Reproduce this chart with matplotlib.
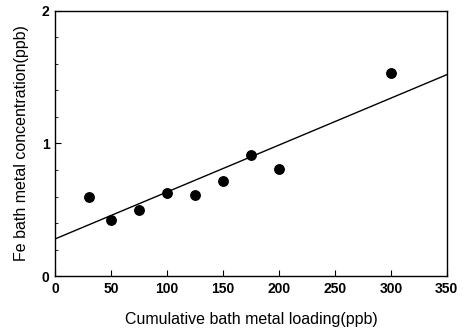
import matplotlib
matplotlib.use("Agg")
import matplotlib.pyplot as plt
import numpy as np
from matplotlib.ticker import MultipleLocator

# data
loading = [30, 50, 75, 100, 125, 150, 175, 200, 300]
fe_conc = [0.60, 0.42, 0.50, 0.63, 0.61, 0.72, 0.91, 0.81, 1.53]
fit_intercept = 0.28
fit_slope = 0.00354
x_ticks = [0, 50, 100, 150, 200, 250, 300, 350]
y_ticks = [0, 1, 2]

plt.rcParams['font.family'] = ['Liberation Sans', 'DejaVu Sans']

fig = plt.figure(figsize=(4.63, 3.31), dpi=100)
ax = fig.add_axes([0.119, 0.166, 0.846, 0.801])

xs = np.array([0, 350])
ax.plot(xs, fit_intercept + fit_slope * xs, color='black', lw=1.0)
ax.plot(loading, fe_conc, 'o', color='black', markersize=6.8)

ax.set_xlim(0, 350)
ax.set_ylim(0, 2)
ax.set_xticks(x_ticks)
ax.set_yticks(y_ticks)
ax.yaxis.set_minor_locator(MultipleLocator(0.2))
ax.tick_params(direction='in', length=4, width=0.8, labelsize=10, pad=4)
ax.tick_params(which='minor', direction='in', length=2, width=0.6)
for lab in ax.get_xticklabels() + ax.get_yticklabels():
    lab.set_fontweight('bold')
for s in ax.spines.values():
    s.set_linewidth(1.0)

ax.set_xlabel('Cumulative bath metal loading(ppb)', fontsize=11.5, labelpad=12)
ax.set_ylabel('Fe bath metal concentration(ppb)', fontsize=11.5, labelpad=9)

fig.savefig('out.png', dpi=100)
